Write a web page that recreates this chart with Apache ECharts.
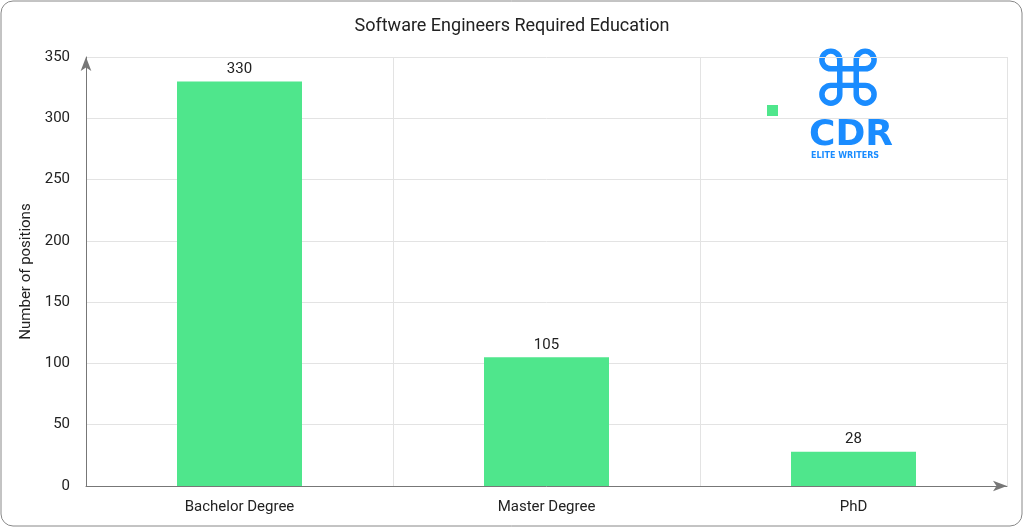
<!DOCTYPE html>
<html><head><meta charset="utf-8">
<script src="https://cdn.jsdelivr.net/npm/echarts@6/dist/echarts.min.js"></script>
<style>html,body{margin:0;padding:0;background:#fff}#c{width:1024px;height:528px}</style>
</head><body><div id="c"></div>
<script>
const categories = ['Bachelor Degree','Master Degree','PhD'];
const positions = [330,105,28];
const chart = echarts.init(document.getElementById('c'));
chart.setOption({
  animation:false,
  title:{text:'Software Engineers Required Education',left:'center',top:12,textStyle:{fontFamily:'Roboto',fontSize:18,fontWeight:'normal',color:'#222'}},
  graphic:[
    {type:'rect',shape:{x:1,y:1,width:1021,height:525,r:12},style:{fill:'none',stroke:'#888',lineWidth:1}},
    {type:'rect',shape:{x:767,y:105,width:11,height:11},style:{fill:'#4fe68c'}},
    {type:'text',left:809,top:118,style:{text:'CDR',fontSize:36,fontWeight:'bold',fill:'#1a8cff',fontFamily:'DejaVu Sans'}},
    {type:'text',left:811,top:152,style:{text:'ELITE WRITERS',fontSize:8,fontWeight:'bold',fill:'#1a8cff',fontFamily:'DejaVu Sans'}},
    {type:'text',left:810,top:48,style:{text:'⌘',fontSize:76,fill:'#1a8cff',fontFamily:'DejaVu Sans'}}
  ],
  grid:{left:86,right:17,top:57,bottom:42},
  xAxis:{type:'category',data:categories,axisLine:{symbol:['none','arrow'],symbolSize:[8,14],lineStyle:{color:'#777'}},axisTick:{show:false},
    axisLabel:{fontFamily:'Roboto',fontSize:15,color:'#222',margin:14},
    splitLine:{show:true,lineStyle:{color:'#e3e3e3'}}},
  yAxis:{type:'value',min:0,max:350,interval:50,name:'Number of positions',nameLocation:'middle',nameGap:52,
    nameTextStyle:{fontFamily:'Roboto',fontSize:15,color:'#222'},
    axisLine:{show:true,symbol:['none','arrow'],symbolSize:[8,14],lineStyle:{color:'#777'}},
    axisLabel:{fontFamily:'Roboto',fontSize:15,color:'#222',margin:16},
    splitLine:{lineStyle:{color:'#e3e3e3'}}},
  series:[{type:'bar',data:positions,barWidth:125,itemStyle:{color:'#4fe68c'},
    label:{show:true,position:'top',fontFamily:'Roboto',fontSize:15,color:'#222'}}]
});
</script></body></html>
